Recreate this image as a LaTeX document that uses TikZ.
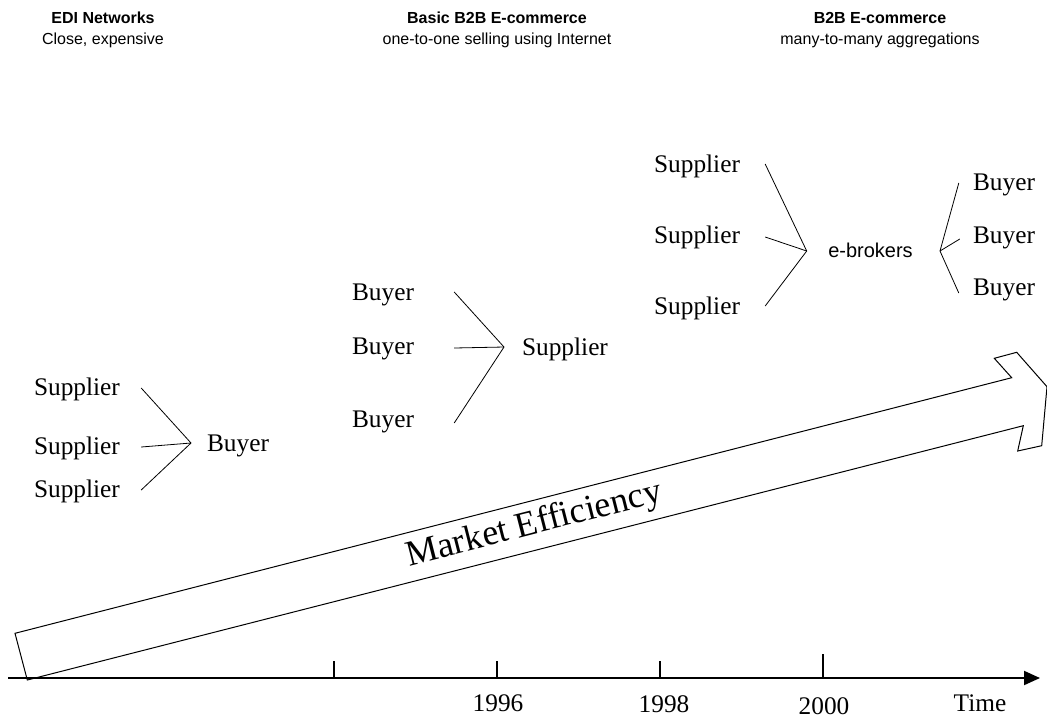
\documentclass[tikz,border=0pt]{standalone}
\usepackage{fontspec}
\setmainfont{Liberation Serif}
\setsansfont{Liberation Sans}
\usetikzlibrary{arrows.meta}

\begin{document}
\begin{tikzpicture}[x=0.75pt,y=-0.75pt]

\tikzstyle{party} = [font=\fontsize{19}{19}\selectfont, inner sep=0pt, anchor=base]
\tikzstyle{broker} = [font=\sffamily\fontsize{15}{15}\selectfont, inner sep=0pt, anchor=base]
\tikzstyle{era} = [font=\sffamily\bfseries\fontsize{12}{12}\selectfont, inner sep=0pt]
\tikzstyle{note} = [font=\sffamily\fontsize{12}{12}\selectfont, inner sep=0pt]
\tikzstyle{fork} = [line width=0.6pt]
\tikzstyle{tick} = [line width=1.5pt]

\useasboundingbox (0,0) rectangle (1047,719);

\node[era] (edi) at (103,18) {EDI Networks};
\node[note] (edinote) at (103,40) {Close, expensive};
\node[era] (basic) at (497,18) {Basic B2B E-commerce};
\node[note] (basicnote) at (497,40) {one-to-one selling using Internet};
\node[era] (mm) at (880,18) {B2B E-commerce};
\node[note] (mmnote) at (880,40) {many-to-many aggregations};

% market efficiency arrow
\draw[line width=0.75pt, fill=white] (15,633.3) -- (1011.7,377.7) -- (994.3,358.3) -- (1016.7,352.3)
  -- (1047,386.7) -- (1041.7,445.7) -- (1017.7,451) -- (1023.3,425.7) -- (27.3,680) -- cycle;
\node[font=\fontsize{27}{27}\selectfont, inner sep=0pt, anchor=base, rotate=14.34] (eff) at (536.5,533.7) {Market Efficiency};

% time axis
\coordinate (t0) at (8,678);
\coordinate (t1) at (1040,678);
\draw[tick, -{Triangle[length=12pt, width=10.5pt]}] (t0) -- (t1);
\draw[tick] (334,678) -- (334,661);
\draw[tick] (497,678) -- (497,661);
\draw[tick] (660,678) -- (660,661);
\draw[tick] (823,678) -- (823,654);
\node[party] (y96) at (498,711) {1996};
\node[party] (y98) at (664,712.5) {1998};
\node[party] (y00) at (824,714) {2000};
\node[party] (time) at (980,711) {Time};

% EDI networks
\node[party] (s1) at (77,395) {Supplier};
\node[party] (s2) at (77,454) {Supplier};
\node[party] (s3) at (77,497) {Supplier};
\node[party] (b0) at (238,451) {Buyer};
\coordinate (j1) at (191,443);
\draw[fork] ([shift={(21,-7)}]s1.base east) -- (j1);
\draw[fork] ([shift={(21,-7)}]s2.base east) -- (j1);
\draw[fork] ([shift={(21,-7)}]s3.base east) -- (j1);

% one-to-one
\node[party] (b1) at (383,300) {Buyer};
\node[party] (b2) at (383,354) {Buyer};
\node[party] (b3) at (383,427) {Buyer};
\node[party] (s0) at (565,355) {Supplier};
\coordinate (j2) at (504,347);
\draw[fork] ([shift={(40,-8)}]b1.base east) -- (j2);
\draw[fork] ([shift={(40,-6)}]b2.base east) -- (j2);
\draw[fork] ([shift={(40,-4)}]b3.base east) -- (j2);

% many-to-many
\node[party] (s4) at (697,172) {Supplier};
\node[party] (s5) at (697,243) {Supplier};
\node[party] (s6) at (697,314) {Supplier};
\node[broker] (eb) at (870.5,257) {e-brokers};
\node[party] (b4) at (1004,190) {Buyer};
\node[party] (b5) at (1004,243) {Buyer};
\node[party] (b6) at (1004,295) {Buyer};
\coordinate (j3) at (806.7,251);
\coordinate (j4) at (940,251);
\draw[fork] ([shift={(25,-8)}]s4.base east) -- (j3);
\draw[fork] ([shift={(25,-6)}]s5.base east) -- (j3);
\draw[fork] ([shift={(25,-8)}]s6.base east) -- (j3);
\draw[fork] ([shift={(-14,-7)}]b4.base west) -- (j4);
\draw[fork] ([shift={(-13,-4)}]b5.base west) -- (j4);
\draw[fork] ([shift={(-14,-2)}]b6.base west) -- (j4);

\end{tikzpicture}
\end{document}
